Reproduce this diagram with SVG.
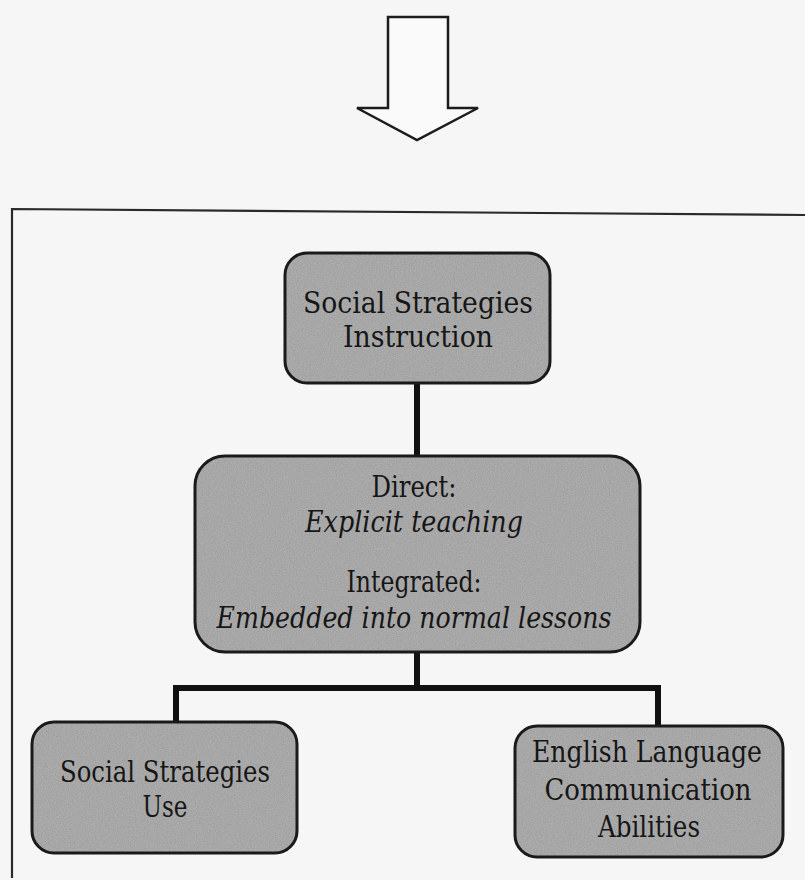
<svg xmlns="http://www.w3.org/2000/svg" width="805" height="880" viewBox="0 0 805 880">
  <style>
    .box { fill: #a0a0a0; stroke: none; }
    .edge { fill: none; stroke: #1a1a1a; stroke-width: 3; }
    .lbl { font-family: "DejaVu Serif", "Liberation Serif", serif; font-size: 29px; fill: #161616; text-anchor: middle; }
    .it { font-style: italic; }
    .conn { fill: none; stroke: #111; stroke-width: 6; stroke-linejoin: miter; }
    .frame { fill: none; stroke: #2a2a2a; stroke-width: 2.2; }
  </style>
  <defs>
    <filter id="grain" x="0" y="0" width="100%" height="100%">
      <feTurbulence type="fractalNoise" baseFrequency="0.85" numOctaves="2" seed="7" result="noise"/>
      <feColorMatrix in="noise" type="matrix" values="0.33 0.33 0.33 0 0  0.33 0.33 0.33 0 0  0.33 0.33 0.33 0 0  0 0 0 0 0.25" result="gray"/>
      <feComposite in="gray" in2="SourceGraphic" operator="in" result="tex"/>
      <feMerge>
        <feMergeNode in="SourceGraphic"/>
        <feMergeNode in="tex"/>
      </feMerge>
    </filter>
  </defs>

  <rect x="0" y="0" width="805" height="880" fill="#f6f6f6"/>

  <!-- downward block arrow -->
  <g id="arrow">
    <polygon points="388,17 448,17 448,108 478,108 417,140 357,108 388,108" fill="#fafafa" stroke="#1c1c1c" stroke-width="2.5" stroke-linejoin="miter"/>
  </g>

  <!-- outer frame (top and left edges) -->
  <g id="frame">
    <path class="frame" d="M12,878 L12,209 L805,215"/>
  </g>

  <!-- connectors -->
  <g id="connectors">
    <path class="conn" d="M417,383 L417,456"/>
    <path class="conn" d="M417,652 L417,688"/>
    <path class="conn" d="M176,722 L176,688 L658,688 L658,726"/>
  </g>

  <g id="node-instruction">
    <rect class="box" x="285" y="253" width="265" height="130" rx="22" ry="22" filter="url(#grain)"/>
    <rect class="edge" x="285" y="253" width="265" height="130" rx="22" ry="22"/>
    <text class="lbl" x="418" y="313" textLength="230" lengthAdjust="spacingAndGlyphs">Social Strategies</text>
    <text class="lbl" x="418" y="347" textLength="150" lengthAdjust="spacingAndGlyphs">Instruction</text>
  </g>

  <g id="node-modes">
    <rect class="box" x="195" y="456" width="445" height="196" rx="30" ry="30" filter="url(#grain)"/>
    <rect class="edge" x="195" y="456" width="445" height="196" rx="30" ry="30"/>
    <text class="lbl" x="414" y="497" textLength="85" lengthAdjust="spacingAndGlyphs">Direct:</text>
    <text class="lbl it" x="414" y="532" textLength="218" lengthAdjust="spacingAndGlyphs">Explicit teaching</text>
    <text class="lbl" x="414" y="592" textLength="135" lengthAdjust="spacingAndGlyphs">Integrated:</text>
    <text class="lbl it" x="414" y="628" textLength="395" lengthAdjust="spacingAndGlyphs">Embedded into normal lessons</text>
  </g>

  <g id="node-use">
    <rect class="box" x="32" y="722" width="265" height="131" rx="22" ry="22" filter="url(#grain)"/>
    <rect class="edge" x="32" y="722" width="265" height="131" rx="22" ry="22"/>
    <text class="lbl" x="165" y="782" textLength="210" lengthAdjust="spacingAndGlyphs">Social Strategies</text>
    <text class="lbl" x="165" y="817" textLength="45" lengthAdjust="spacingAndGlyphs">Use</text>
  </g>

  <g id="node-abilities">
    <rect class="box" x="515" y="726" width="268" height="131" rx="22" ry="22" filter="url(#grain)"/>
    <rect class="edge" x="515" y="726" width="268" height="131" rx="22" ry="22"/>
    <text class="lbl" x="647" y="762" textLength="230" lengthAdjust="spacingAndGlyphs">English Language</text>
    <text class="lbl" x="648" y="800" textLength="207" lengthAdjust="spacingAndGlyphs">Communication</text>
    <text class="lbl" x="649" y="837" textLength="102" lengthAdjust="spacingAndGlyphs">Abilities</text>
  </g>
</svg>
